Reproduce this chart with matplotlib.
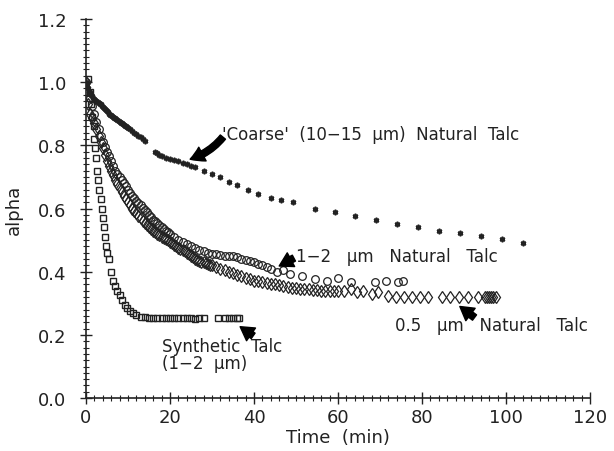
import matplotlib
matplotlib.use("Agg")
import matplotlib.pyplot as plt
from matplotlib.ticker import MultipleLocator

# 'Coarse' (10-15 um) natural talc
coarse_t = [0, 0.25, 0.5, 0.75, 1.0, 1.25, 1.5, 1.75, 2.0, 2.25, 2.5, 2.75, 3.0, 3.25, 3.5,
            3.75, 4.0, 4.25, 4.5, 4.75, 5.0, 5.25, 5.5, 5.75, 6.0, 6.25, 6.5, 6.75, 7.0,
            7.25, 7.5, 7.75, 8.0, 8.25, 8.5, 8.75, 9.0, 9.25, 9.5, 9.75, 10.0, 10.5, 11.0,
            11.5, 12.0, 12.5, 13.0, 13.5, 14.0,
            16.5, 17.0, 17.5, 18.0, 19.0, 20.0, 21.0, 22.0, 23.0, 24.0, 25.0, 26.0, 28.0,
            30.0, 32.0, 34.0, 36.0, 38.5, 41.0, 44.0, 46.5, 49.3, 54.5, 59.3, 64.0, 69.0,
            74.0, 79.0, 84.0, 89.0, 94.0, 99.0, 104.0]
coarse_a = [1.00, 0.99, 0.98, 0.972, 0.965, 0.96, 0.955, 0.95, 0.945, 0.942, 0.94, 0.937,
            0.935, 0.932, 0.93, 0.925, 0.92, 0.917, 0.915, 0.912, 0.91, 0.905, 0.90, 0.897,
            0.895, 0.892, 0.89, 0.887, 0.885, 0.882, 0.88, 0.877, 0.875, 0.872, 0.87, 0.867,
            0.865, 0.862, 0.86, 0.857, 0.855, 0.85, 0.845, 0.84, 0.835, 0.83, 0.825, 0.82,
            0.815,
            0.78, 0.775, 0.77, 0.765, 0.76, 0.757, 0.754, 0.75, 0.745, 0.74, 0.735, 0.73,
            0.72, 0.71, 0.70, 0.685, 0.674, 0.66, 0.645, 0.633, 0.627, 0.62, 0.60, 0.589,
            0.576, 0.563, 0.552, 0.54, 0.53, 0.523, 0.512, 0.505, 0.49]

# 1-2 um natural talc (open circles)
nat12_t = [0, 0.5, 1, 1.5, 2, 2.5, 3, 3.5, 4, 4.5, 5, 5.5, 6, 6.5, 7, 7.5, 8, 8.5, 9, 9.5,
           10, 10.5, 11, 11.5, 12, 12.5, 13, 13.5, 14, 14.5, 15, 15.5, 16, 16.5, 17, 17.5,
           18, 18.5, 19, 19.5, 20, 21, 22, 23, 24, 25, 26, 27, 28, 29, 30, 31, 32, 33, 34,
           35, 36, 37, 38, 39, 40, 41, 42, 43, 44, 45.5, 47, 48.6, 51.4, 54.5, 57.3, 60,
           63, 68.8, 71.5, 74.3, 75.5]
nat12_a = [1.0, 0.97, 0.95, 0.925, 0.9, 0.875, 0.85, 0.83, 0.81, 0.795, 0.78, 0.765, 0.75,
           0.735, 0.72, 0.71, 0.70, 0.69, 0.68, 0.67, 0.66, 0.65, 0.64, 0.632, 0.625, 0.617,
           0.61, 0.602, 0.595, 0.588, 0.58, 0.572, 0.565, 0.559, 0.553, 0.547, 0.54, 0.535,
           0.53, 0.525, 0.52, 0.51, 0.50, 0.495, 0.488, 0.48, 0.475, 0.47, 0.465, 0.46,
           0.457, 0.455, 0.452, 0.45, 0.45, 0.45, 0.445, 0.44, 0.437, 0.433, 0.43, 0.425,
           0.42, 0.415, 0.41, 0.40, 0.405, 0.392, 0.386, 0.376, 0.37, 0.38, 0.367, 0.367,
           0.37, 0.367, 0.37]

# 0.5 um natural talc (diamonds)
nat05_t = [0, 0.5, 1, 1.5, 2, 2.5, 3, 3.5, 4, 4.5, 5, 5.5, 6, 6.5, 7, 7.5, 8, 8.5, 9, 9.5,
           10, 10.5, 11, 11.5, 12, 12.5, 13, 13.5, 14, 14.5, 15, 15.5, 16, 16.5, 17, 17.5,
           18, 18.5, 19, 19.5, 20, 20.5, 21, 21.5, 22, 22.5, 23, 23.5, 24, 24.5, 25, 25.5,
           26, 26.5, 27, 27.5, 28, 28.5, 29, 29.5, 30, 31, 32, 33, 34, 35, 36, 37, 38, 39,
           40, 41, 42, 43, 44, 45, 46, 47, 48, 49, 50, 51, 52, 53, 54, 55, 56, 57, 58, 59,
           60, 61.5, 63, 64.5, 66, 68, 69.5, 71.9, 73.8, 75.7, 77.6, 79.5, 81.4, 84.8,
           86.7, 88.8, 91, 93.3, 95, 95.5, 96, 96.5, 97, 97.5]
nat05_a = [1.0, 0.93, 0.9, 0.885, 0.87, 0.85, 0.83, 0.81, 0.79, 0.77, 0.75, 0.735, 0.72,
           0.705, 0.69, 0.677, 0.665, 0.652, 0.64, 0.63, 0.62, 0.61, 0.60, 0.592, 0.585,
           0.577, 0.57, 0.562, 0.555, 0.548, 0.54, 0.535, 0.53, 0.525, 0.52, 0.515, 0.51,
           0.506, 0.503, 0.499, 0.495, 0.49, 0.485, 0.48, 0.475, 0.472, 0.47, 0.465, 0.46,
           0.455, 0.45, 0.445, 0.44, 0.437, 0.435, 0.432, 0.43, 0.427, 0.425, 0.422, 0.42,
           0.415, 0.41, 0.405, 0.40, 0.395, 0.39, 0.385, 0.38, 0.376, 0.372, 0.37, 0.367,
           0.365, 0.362, 0.36, 0.357, 0.355, 0.353, 0.35, 0.348, 0.346, 0.345, 0.345, 0.343,
           0.342, 0.34, 0.34, 0.34, 0.339, 0.338, 0.34, 0.345, 0.335, 0.34, 0.33, 0.335,
           0.322, 0.32, 0.32, 0.32, 0.32, 0.32, 0.32, 0.32, 0.32, 0.32, 0.32, 0.32, 0.32,
           0.32, 0.32, 0.32, 0.32]

# Synthetic talc, 1-2 um (open squares)
syn_t = [0.5, 1.0, 1.2, 1.5, 1.8, 2.0, 2.2, 2.5, 2.7, 2.9, 3.2, 3.5, 3.8, 4.0, 4.2, 4.5,
         4.8, 5.1, 5.5, 6.0, 6.5, 7.0, 7.5, 8.0, 8.6, 9.2, 9.8, 10.5, 11.2, 12, 13, 14, 15,
         16, 17, 18, 19, 20, 21, 22, 23, 24, 25, 26, 27, 28, 31.5, 33, 34, 35, 36, 36.5]
syn_a = [1.01, 0.97, 0.93, 0.89, 0.86, 0.82, 0.79, 0.76, 0.72, 0.69, 0.66, 0.63, 0.60,
         0.57, 0.54, 0.51, 0.48, 0.46, 0.44, 0.40, 0.37, 0.355, 0.34, 0.325, 0.31, 0.295,
         0.285, 0.275, 0.268, 0.262, 0.258, 0.256, 0.255, 0.255, 0.253, 0.254, 0.253, 0.252,
         0.253, 0.252, 0.252, 0.253, 0.252, 0.251, 0.252, 0.252, 0.252, 0.252, 0.253,
         0.252, 0.253, 0.252]

plt.rcParams['font.family'] = ['DejaVu Sans']
ink = '#222222'

fig = plt.figure(figsize=(6.14, 4.52), dpi=100)
ax = fig.add_axes([0.140, 0.117, 0.821, 0.839])

ax.plot(coarse_t, coarse_a, linestyle='none', marker=(6, 2, 0), markersize=4,
        markeredgewidth=1.2, color=ink)
ax.plot(nat12_t, nat12_a, linestyle='none', marker='o', markersize=5.5,
        markerfacecolor='none', markeredgecolor=ink, markeredgewidth=0.9)
ax.plot(nat05_t, nat05_a, linestyle='none', marker='d', markersize=6,
        markerfacecolor='none', markeredgecolor=ink, markeredgewidth=0.9)
ax.plot(syn_t, syn_a, linestyle='none', marker='s', markersize=5,
        markerfacecolor='none', markeredgecolor=ink, markeredgewidth=1.0)

# labels
lab = dict(fontsize=12, color=ink, va='center', ha='left')
ax.text(32.4, 0.835, "'Coarse'  (10\u221215  \u03bcm)  Natural  Talc", **lab)
ax.text(50.0, 0.449, "1\u22122   \u03bcm   Natural   Talc", **lab)
ax.text(73.5, 0.231, "0.5   \u03bcm   Natural   Talc", **lab)
ax.text(18.0, 0.138, "Synthetic  Talc\n(1\u22122  \u03bcm)", linespacing=0.9, **lab)

# short thick arrows
arrow = dict(arrowstyle='simple,head_width=0.7,head_length=0.6,tail_width=0.3',
             color='black', mutation_scale=16, shrinkA=0, shrinkB=0)
ax.annotate("", xy=(24.8, 0.756), xytext=(32.6, 0.826),
            arrowprops=dict(arrow, connectionstyle='arc3,rad=-0.15'))
ax.annotate("", xy=(46.0, 0.418), xytext=(49.5, 0.443), arrowprops=arrow)
ax.annotate("", xy=(89.0, 0.290), xytext=(92.5, 0.255), arrowprops=arrow)
ax.annotate("", xy=(36.7, 0.226), xytext=(39.8, 0.197), arrowprops=arrow)

ax.set_xlim(0, 120)
ax.set_ylim(0, 1.2)
ax.xaxis.set_major_locator(MultipleLocator(20))
ax.xaxis.set_minor_locator(MultipleLocator(2))
ax.yaxis.set_major_locator(MultipleLocator(0.2))
ax.yaxis.set_minor_locator(MultipleLocator(0.02))
ax.yaxis.set_major_formatter(plt.FormatStrFormatter('%.1f'))

for side in ['top', 'right']:
    ax.spines[side].set_visible(False)
for side in ['left', 'bottom']:
    ax.spines[side].set_color(ink)
    ax.spines[side].set_linewidth(1.2)

ax.tick_params(axis='both', which='major', direction='inout', length=8, width=1.0,
               colors=ink, labelsize=13)
ax.tick_params(axis='both', which='minor', direction='inout', length=5, width=0.8,
               colors=ink)
ax.tick_params(axis='y', which='major', pad=10)
ax.tick_params(axis='x', which='major', pad=3)

ax.set_xlabel('Time  (min)', fontsize=13, color=ink)
ax.set_ylabel('alpha', fontsize=13, color=ink)
ax.yaxis.set_label_coords(-0.125, 0.5)
ax.xaxis.set_label_coords(0.5, -0.078)

fig.savefig('out.png', dpi=100)
